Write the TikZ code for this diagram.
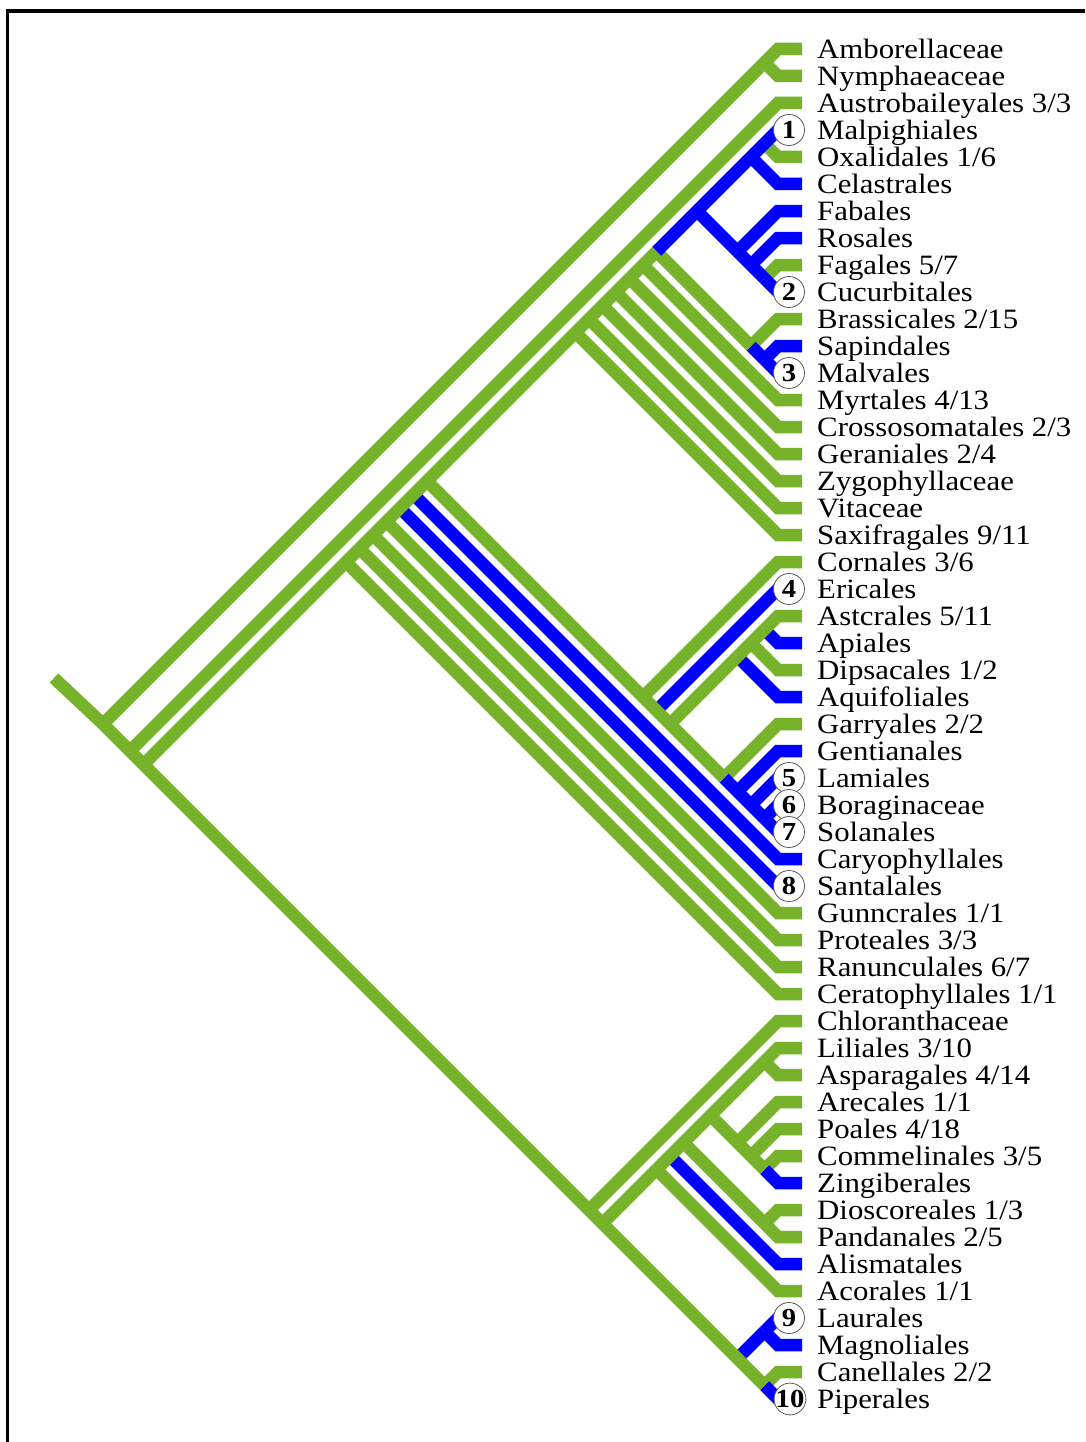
\documentclass[tikz,border=0pt]{standalone}
\usepackage{fontspec}
\setmainfont{Liberation Serif}[FakeStretch=1.1]
\usepackage{xcolor}
\usepackage{tikz}

\definecolor{cladegreen}{RGB}{118,178,42}
\definecolor{cladeblue}{RGB}{0,0,255}

\begin{document}
\begin{tikzpicture}[x=1pt,y=-1pt,
    grn/.style={draw=cladegreen,line width=12.5pt},
    blu/.style={draw=cladeblue,line width=12.5pt},
    taxon/.style={anchor=base west,inner sep=0pt,text height=19pt,text depth=5pt,font=\fontsize{28}{28}\selectfont},
    numcirc/.style={circle,draw=black!65,line width=0.8pt,fill=white,minimum size=31pt,inner sep=0pt,font=\fontsize{26}{26}\selectfont\bfseries}]
  \useasboundingbox (0,0) rectangle (1085,1442);
  \draw[line width=3.3pt] (7.7,1442) -- (7.7,11) -- (1085,11);

  % leaf tips
  \coordinate (Ambo) at (778,49);
  \coordinate (Nymp) at (778,76);
  \coordinate (Aust) at (778,103);
  \coordinate (Malp) at (778,130);
  \coordinate (Oxal) at (778,157);
  \coordinate (Cela) at (778,184);
  \coordinate (Faba) at (778,211);
  \coordinate (Rosa) at (778,238);
  \coordinate (Faga) at (778,265);
  \coordinate (Cucu) at (778,292);
  \coordinate (Bras) at (778,319);
  \coordinate (Sapi) at (778,346);
  \coordinate (Malv) at (778,373);
  \coordinate (Myrt) at (778,400);
  \coordinate (Cros) at (778,427);
  \coordinate (Gera) at (778,454);
  \coordinate (Zygo) at (778,481);
  \coordinate (Vita) at (778,508);
  \coordinate (Saxi) at (778,535);
  \coordinate (Corn) at (778,562);
  \coordinate (Eric) at (778,589);
  \coordinate (Aste) at (778,616);
  \coordinate (Apia) at (778,643);
  \coordinate (Dips) at (778,670);
  \coordinate (Aqui) at (778,697);
  \coordinate (Garr) at (778,724);
  \coordinate (Gent) at (778,751);
  \coordinate (Lami) at (778,778);
  \coordinate (Bora) at (778,805);
  \coordinate (Sola) at (778,832);
  \coordinate (Cary) at (778,859);
  \coordinate (Sant) at (778,886);
  \coordinate (Gunn) at (778,913);
  \coordinate (Prot) at (778,940);
  \coordinate (Ranu) at (778,967);
  \coordinate (Cera) at (778,994);
  \coordinate (Chlo) at (778,1021);
  \coordinate (Lili) at (778,1048);
  \coordinate (Aspa) at (778,1075);
  \coordinate (Arec) at (778,1102);
  \coordinate (Poal) at (778,1129);
  \coordinate (Comm) at (778,1156);
  \coordinate (Zing) at (778,1183);
  \coordinate (Dios) at (778,1210);
  \coordinate (Pand) at (778,1237);
  \coordinate (Alis) at (778,1264);
  \coordinate (Acor) at (778,1291);
  \coordinate (Laur) at (778,1318);
  \coordinate (Magn) at (778,1345);
  \coordinate (Cane) at (778,1372);
  \coordinate (Pipe) at (778,1399);

  % internal nodes
  \coordinate (base) at (54,678);
  \coordinate (root) at (103,724);
  \coordinate (nAN) at (764.5,62.5);
  \coordinate (nA1) at (130,751);
  \coordinate (nMes) at (143.5,764.5);
  \coordinate (nEuC) at (346,562);
  \coordinate (nEu) at (359.5,548.5);
  \coordinate (nEu2) at (373,535);
  \coordinate (nEu3) at (386.5,521.5);
  \coordinate (nCore) at (400,508);
  \coordinate (nCore2) at (413.5,494.5);
  \coordinate (nCore3) at (427,481);
  \coordinate (nSax) at (575.5,332.5);
  \coordinate (nVit) at (589,319);
  \coordinate (nZyg) at (602.5,305.5);
  \coordinate (nGer) at (616,292);
  \coordinate (nCro) at (629.5,278.5);
  \coordinate (nMyr) at (643,265);
  \coordinate (nRos) at (656.5,251.5);
  \coordinate (nFab) at (697,211);
  \coordinate (nCOM) at (751,157);
  \coordinate (nMO) at (764.5,143.5);
  \coordinate (nNfix) at (737.5,251.5);
  \coordinate (nRFC) at (751,265);
  \coordinate (nFC) at (764.5,278.5);
  \coordinate (nMalv) at (751,346);
  \coordinate (nSM) at (764.5,359.5);
  \coordinate (nAst) at (643,697);
  \coordinate (nAst2) at (656.5,710.5);
  \coordinate (nAst3) at (670,724);
  \coordinate (nCamp) at (737.5,656.5);
  \coordinate (nCamp2) at (751,643);
  \coordinate (nAA) at (764.5,629.5);
  \coordinate (nLam) at (724,778);
  \coordinate (nLam2) at (737.5,791.5);
  \coordinate (nLam3) at (751,805);
  \coordinate (nBS) at (764.5,818.5);
  \coordinate (nChl) at (589,1210);
  \coordinate (nMM) at (602.5,1223.5);
  \coordinate (nMon) at (656.5,1169.5);
  \coordinate (nMon2) at (670,1156);
  \coordinate (nMon3) at (683.5,1142.5);
  \coordinate (nDP) at (764.5,1223.5);
  \coordinate (nMon4) at (710.5,1115.5);
  \coordinate (nLA) at (764.5,1061.5);
  \coordinate (nCom) at (737.5,1142.5);
  \coordinate (nCom2) at (751,1156);
  \coordinate (nCom3) at (764.5,1169.5);
  \coordinate (nMag) at (737.5,1358.5);
  \coordinate (nLM) at (764.5,1331.5);
  \coordinate (nCP) at (764.5,1385.5);

  % fabids
  \draw[grn] (nMO) -- (Oxal) -- ++(24,0);
  \draw[blu] (nMO) -- (Malp) -- ++(24,0);
  \draw[blu] (nCOM) -- (Cela) -- ++(24,0);
  \draw[grn] (nFC) -- (Faga) -- ++(24,0);
  \draw[blu] (nFC) -- (Cucu) -- ++(24,0);
  \draw[blu] (nRFC) -- (Rosa) -- ++(24,0);
  \draw[blu] (nNfix) -- (Faba) -- ++(24,0);
  \draw[blu] (nNfix) -- (nRFC) -- (nFC);
  \draw[blu] (nFab) -- (nNfix);
  % malvids
  \draw[blu] (nSM) -- (Sapi) -- ++(24,0);
  \draw[blu] (nSM) -- (Malv) -- ++(24,0);
  \draw[grn] (nMalv) -- (Bras) -- ++(24,0);
  \draw[blu] (nMalv) -- (nSM);
  \draw[grn] (nRos) -- (nMalv);
  \draw[blu] (nRos) -- (nFab) -- (nCOM) -- (nMO);
  % rosid grade
  \draw[grn] (nMyr) -- (Myrt) -- ++(24,0);
  \draw[grn] (nCro) -- (Cros) -- ++(24,0);
  \draw[grn] (nGer) -- (Gera) -- ++(24,0);
  \draw[grn] (nZyg) -- (Zygo) -- ++(24,0);
  \draw[grn] (nVit) -- (Vita) -- ++(24,0);
  \draw[grn] (nSax) -- (Saxi) -- ++(24,0);
  % asterids
  \draw[blu] (nAA) -- (Apia) -- ++(24,0);
  \draw[grn] (nAA) -- (Aste) -- ++(24,0);
  \draw[grn] (nCamp2) -- (Dips) -- ++(24,0);
  \draw[blu] (nCamp) -- (Aqui) -- ++(24,0);
  \draw[grn] (nCamp) -- (nCamp2) -- (nAA);
  \draw[blu] (nBS) -- (Bora) -- ++(24,0);
  \draw[blu] (nBS) -- (Sola) -- ++(24,0);
  \draw[blu] (nLam3) -- (Lami) -- ++(24,0);
  \draw[blu] (nLam2) -- (Gent) -- ++(24,0);
  \draw[grn] (nLam) -- (Garr) -- ++(24,0);
  \draw[blu] (nLam) -- (nLam2) -- (nLam3) -- (nBS);
  \draw[grn] (nAst3) -- (nCamp);
  \draw[blu] (nAst2) -- (Eric) -- ++(24,0);
  \draw[grn] (nAst) -- (Corn) -- ++(24,0);
  \draw[grn] (nCore3) -- (nAst) -- (nAst2) -- (nAst3) -- (nLam);
  % eudicot grade
  \draw[blu] (nCore2) -- (Cary) -- ++(24,0);
  \draw[blu] (nCore) -- (Sant) -- ++(24,0);
  \draw[grn] (nEu3) -- (Gunn) -- ++(24,0);
  \draw[grn] (nEu2) -- (Prot) -- ++(24,0);
  \draw[grn] (nEu) -- (Ranu) -- ++(24,0);
  \draw[grn] (nEuC) -- (Cera) -- ++(24,0);
  \draw[grn] (nMes) -- (nEuC) -- (nEu) -- (nEu2) -- (nEu3) -- (nCore) -- (nCore2) -- (nCore3)
    -- (nSax) -- (nVit) -- (nZyg) -- (nGer) -- (nCro) -- (nMyr) -- (nRos);
  % monocots
  \draw[grn] (nLA) -- (Aspa) -- ++(24,0);
  \draw[grn] (nLA) -- (Lili) -- ++(24,0);
  \draw[grn] (nCom3) -- (Comm) -- ++(24,0);
  \draw[blu] (nCom3) -- (Zing) -- ++(24,0);
  \draw[grn] (nCom2) -- (Poal) -- ++(24,0);
  \draw[grn] (nCom) -- (Arec) -- ++(24,0);
  \draw[grn] (nMon4) -- (nCom) -- (nCom2) -- (nCom3);
  \draw[grn] (nDP) -- (Dios) -- ++(24,0);
  \draw[grn] (nDP) -- (Pand) -- ++(24,0);
  \draw[grn] (nMon3) -- (nDP);
  \draw[blu] (nMon2) -- (Alis) -- ++(24,0);
  \draw[grn] (nMon) -- (Acor) -- ++(24,0);
  \draw[grn] (nMon) -- (nMon2) -- (nMon3) -- (nMon4) -- (nLA);
  % magnoliids
  \draw[blu] (nLM) -- (Magn) -- ++(24,0);
  \draw[blu] (nLM) -- (Laur) -- ++(24,0);
  \draw[grn] (nCP) -- (Cane) -- ++(24,0);
  \draw[blu] (nCP) -- (Pipe) -- ++(24,0);
  \draw[blu] (nMag) -- (nLM);
  \draw[grn] (nMM) -- (nMon);
  \draw[grn] (nChl) -- (Chlo) -- ++(24,0);
  % basal grade
  \draw[grn] (nA1) -- (Aust) -- ++(24,0);
  \draw[grn] (nAN) -- (Nymp) -- ++(24,0);
  \draw[grn] (root) -- (nAN) -- (Ambo) -- ++(24,0);
  \draw[grn] (base) -- (root) -- (nA1) -- (nMes) -- (nChl) -- (nMM) -- (nMag) -- (nCP);

  % taxon names
  \node[taxon] (tAmbo) at (817,58.5) {Amborellaceae};
  \node[taxon] (tNymp) at (817,85.5) {Nymphaeaceae};
  \node[taxon] (tAust) at (817,112.5) {Austrobaileyales 3/3};
  \node[taxon] (tMalp) at (817,139.5) {Malpighiales};
  \node[taxon] (tOxal) at (817,166.5) {Oxalidales 1/6};
  \node[taxon] (tCela) at (817,193.5) {Celastrales};
  \node[taxon] (tFaba) at (817,220.5) {Fabales};
  \node[taxon] (tRosa) at (817,247.5) {Rosales};
  \node[taxon] (tFaga) at (817,274.5) {Fagales 5/7};
  \node[taxon] (tCucu) at (817,301.5) {Cucurbitales};
  \node[taxon] (tBras) at (817,328.5) {Brassicales 2/15};
  \node[taxon] (tSapi) at (817,355.5) {Sapindales};
  \node[taxon] (tMalv) at (817,382.5) {Malvales};
  \node[taxon] (tMyrt) at (817,409.5) {Myrtales 4/13};
  \node[taxon] (tCros) at (817,436.5) {Crossosomatales 2/3};
  \node[taxon] (tGera) at (817,463.5) {Geraniales 2/4};
  \node[taxon] (tZygo) at (817,490.5) {Zygophyllaceae};
  \node[taxon] (tVita) at (817,517.5) {Vitaceae};
  \node[taxon] (tSaxi) at (817,544.5) {Saxifragales 9/11};
  \node[taxon] (tCorn) at (817,571.5) {Cornales 3/6};
  \node[taxon] (tEric) at (817,598.5) {Ericales};
  \node[taxon] (tAste) at (817,625.5) {Astcrales 5/11};
  \node[taxon] (tApia) at (817,652.5) {Apiales};
  \node[taxon] (tDips) at (817,679.5) {Dipsacales 1/2};
  \node[taxon] (tAqui) at (817,706.5) {Aquifoliales};
  \node[taxon] (tGarr) at (817,733.5) {Garryales 2/2};
  \node[taxon] (tGent) at (817,760.5) {Gentianales};
  \node[taxon] (tLami) at (817,787.5) {Lamiales};
  \node[taxon] (tBora) at (817,814.5) {Boraginaceae};
  \node[taxon] (tSola) at (817,841.5) {Solanales};
  \node[taxon] (tCary) at (817,868.5) {Caryophyllales};
  \node[taxon] (tSant) at (817,895.5) {Santalales};
  \node[taxon] (tGunn) at (817,922.5) {Gunncrales 1/1};
  \node[taxon] (tProt) at (817,949.5) {Proteales 3/3};
  \node[taxon] (tRanu) at (817,976.5) {Ranunculales 6/7};
  \node[taxon] (tCera) at (817,1003.5) {Ceratophyllales 1/1};
  \node[taxon] (tChlo) at (817,1030.5) {Chloranthaceae};
  \node[taxon] (tLili) at (817,1057.5) {Liliales 3/10};
  \node[taxon] (tAspa) at (817,1084.5) {Asparagales 4/14};
  \node[taxon] (tArec) at (817,1111.5) {Arecales 1/1};
  \node[taxon] (tPoal) at (817,1138.5) {Poales 4/18};
  \node[taxon] (tComm) at (817,1165.5) {Commelinales 3/5};
  \node[taxon] (tZing) at (817,1192.5) {Zingiberales};
  \node[taxon] (tDios) at (817,1219.5) {Dioscoreales 1/3};
  \node[taxon] (tPand) at (817,1246.5) {Pandanales 2/5};
  \node[taxon] (tAlis) at (817,1273.5) {Alismatales};
  \node[taxon] (tAcor) at (817,1300.5) {Acorales 1/1};
  \node[taxon] (tLaur) at (817,1327.5) {Laurales};
  \node[taxon] (tMagn) at (817,1354.5) {Magnoliales};
  \node[taxon] (tCane) at (817,1381.5) {Canellales 2/2};
  \node[taxon] (tPipe) at (817,1408.5) {Piperales};

  % numbered taxa
  \node[numcirc] (c1) at (789,130) {1};
  \node[numcirc] (c2) at (789,292) {2};
  \node[numcirc] (c3) at (789,373) {3};
  \node[numcirc] (c4) at (789,589) {4};
  \node[numcirc] (c5) at (789,778) {5};
  \node[numcirc] (c6) at (789,805) {6};
  \node[numcirc] (c7) at (789,832) {7};
  \node[numcirc] (c8) at (789,886) {8};
  \node[numcirc] (c9) at (789,1318) {9};
  \node[numcirc] (c10) at (790,1399) {\kern-1pt10\kern-1pt};
\end{tikzpicture}
\end{document}
